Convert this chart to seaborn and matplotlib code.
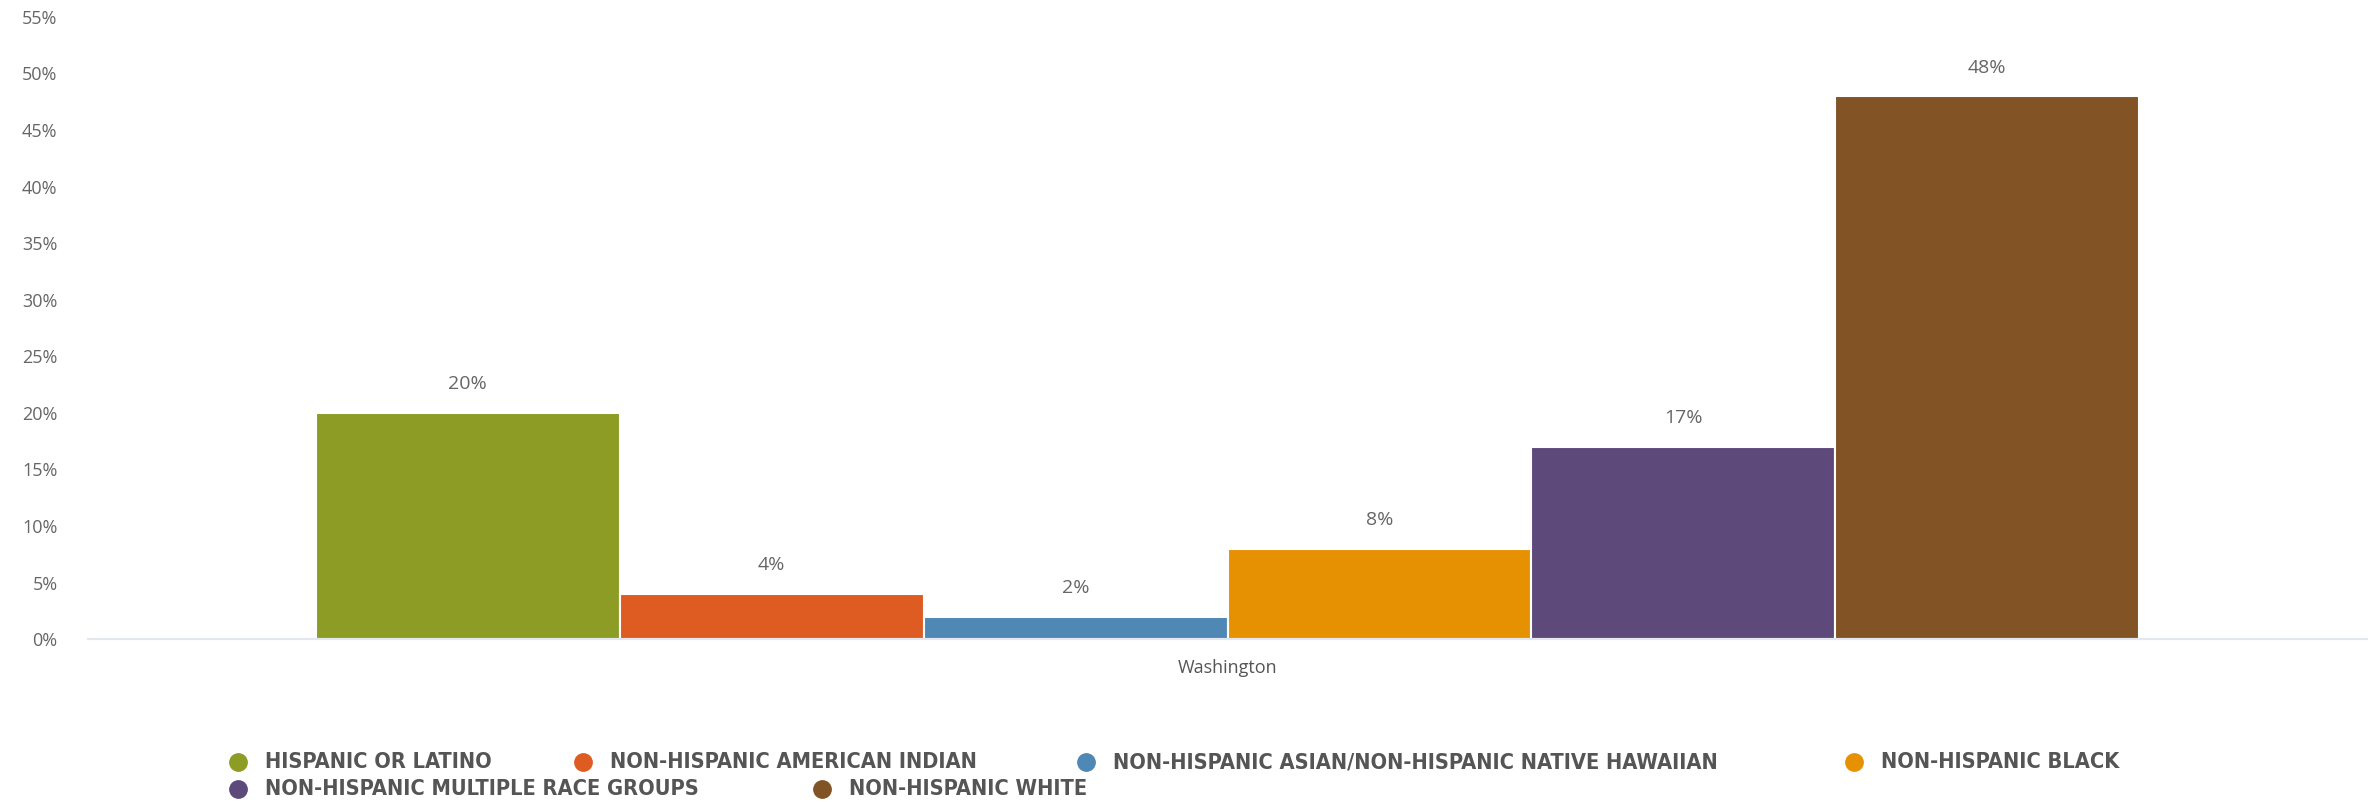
import matplotlib
matplotlib.use("Agg")
import matplotlib.pyplot as plt
import seaborn as sns
import pandas as pd
from matplotlib.lines import Line2D

# ---- data ----
regions = ["Washington"]
groups = [
    "HISPANIC OR LATINO",
    "NON-HISPANIC AMERICAN INDIAN",
    "NON-HISPANIC ASIAN/NON-HISPANIC NATIVE HAWAIIAN",
    "NON-HISPANIC BLACK",
    "NON-HISPANIC MULTIPLE RACE GROUPS",
    "NON-HISPANIC WHITE",
]
values = [20, 4, 2, 8, 17, 48]
colors = ["#8c9c25", "#de5b22", "#4f87b5", "#e69102", "#5d4a7b", "#815325"]
yticks = [0, 5, 10, 15, 20, 25, 30, 35, 40, 45, 50, 55]

df = pd.DataFrame({"region": regions * len(groups), "group": groups, "value": values})

sns.set_theme(style="white")
plt.rcParams["font.family"] = ["Open Sans", "DejaVu Sans"]

fig = plt.figure(figsize=(23.79, 8.02), dpi=100)
ax = fig.add_axes([0.037, 0.203, 0.958, 0.776])

sns.barplot(data=df, x="region", y="value", hue="group", hue_order=groups,
            palette=dict(zip(groups, colors)), saturation=1, width=0.8,
            edgecolor="white", linewidth=1.5, legend=False, ax=ax)

for cont in ax.containers:
    ax.bar_label(cont, labels=[f"{v:.0f}%" for v in cont.datavalues],
                 padding=14, fontsize=14, color="#666666")

ax.set_ylim(0, 55)
ax.set_yticks(yticks)
ax.set_yticklabels([f"{t}%" for t in yticks])
ax.set_xlim(-0.5, 0.5)
ax.set_xlabel("")
ax.set_ylabel("")
for s in ["top", "right", "left"]:
    ax.spines[s].set_visible(False)
ax.spines["bottom"].set_color("#e3e7ef")
ax.spines["bottom"].set_linewidth(1.5)
ax.tick_params(axis="y", length=0, pad=22, labelsize=13, labelcolor="#666666")
ax.tick_params(axis="x", length=0, pad=14, labelsize=13, labelcolor="#555555")
ax.grid(False)

# ---- legend (flow layout) ----
W, H = 2379, 802
item_pos = [(238, 762), (583, 762), (1086, 762), (1854, 762), (238, 789), (822, 789)]
for (px, py), name, c in zip(item_pos, groups, colors):
    fx, fy = px / W, 1 - py / H
    fig.add_artist(Line2D([fx], [fy], marker="o", markersize=12.5, color=c,
                          linestyle="none", transform=fig.transFigure))
    fig.text(fx + 27 / W, fy, name, ha="left", va="center", fontsize=15.7,
             fontweight="bold", fontstretch="condensed", color="#555555",
             family=["DejaVu Sans"])

fig.savefig("out.png", dpi=100)
